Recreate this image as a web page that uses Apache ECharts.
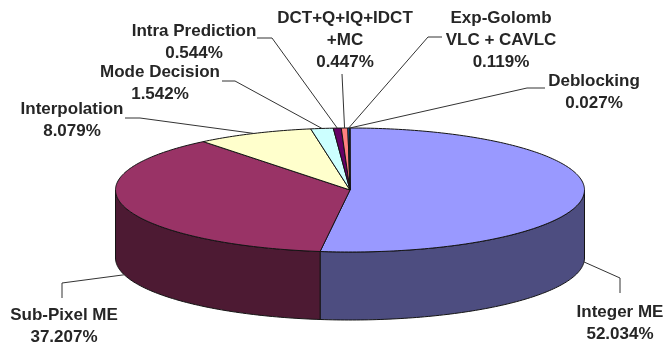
<!DOCTYPE html>
<html>
<head>
<meta charset="utf-8">
<style>html,body{margin:0;padding:0;background:#fff}#chart{width:665px;height:345px}</style>
<script src="https://cdn.jsdelivr.net/npm/echarts@6/dist/echarts.min.js"></script>
</head>
<body>
<div id="chart"></div>
<script>
// Share of encoder run time per coding stage, in percent.
const categories = [
  'Integer ME', 'Sub-Pixel ME', 'Interpolation', 'Mode Decision',
  'Intra Prediction', 'DCT+Q+IQ+IDCT\n+MC', 'Exp-Golomb\nVLC + CAVLC', 'Deblocking'
];
const shares = [52.034, 37.207, 8.079, 1.542, 0.544, 0.447, 0.119, 0.027];

// Face and wall colours of each slice.
const faceColors = ['#9999FF', '#993366', '#FFFFCC', '#CCFFFF', '#660066', '#FF8080', '#0066CC', '#CCCCFF'];
const wallColors = ['#4D4D80', '#4D1A33', '#80805F', '#668080', '#330033', '#804040', '#003366', '#666680'];

// Label centre and leader elbow for each slice, in pixels.
const labelCentres = [[620, 301], [64, 304], [72, 98], [160, 61], [194, 20], [345, 7], [501, 7], [594, 70]];
const leaderBends = [
  [[620, 293], [620, 278]],
  [[62, 298], [62, 283]],
  [[125, 118], [140, 118]],
  [[222, 81], [235, 81]],
  [[257, 38], [272, 38]],
  [[342, 74]],
  [[442, 37], [428, 37]],
  [[545, 88], [527, 88]]
];

// Tilted disc geometry.
const cx = 350, cy = 190, rx = 234.5, ry = 62, depth = 68;
const rim = (deg) => {
  const a = deg * Math.PI / 180;
  return [cx + rx * Math.sin(a), cy - ry * Math.cos(a)];
};
const arc = (from, to) => {
  const pts = [];
  const steps = Math.max(1, Math.ceil(Math.abs(to - from)));
  for (let i = 0; i <= steps; i++) pts.push(rim(from + (to - from) * i / steps));
  return pts;
};

// Angles run clockwise from twelve o'clock.
let running = 0;
const total = shares.reduce((s, v) => s + v, 0);
const sliceRows = shares.map((v, i) => {
  const start = running;
  running += v;
  return [start / total * 360, running / total * 360, i];
});

const renderSlice = (params, api) => {
  const start = api.value(0), end = api.value(1), i = api.value(2);
  const children = [];
  const line = { stroke: '#141414', lineWidth: 1, lineJoin: 'round' };

  // Only the part of the wall between 90 and 270 degrees faces the viewer.
  const wallFrom = Math.max(start, 90), wallTo = Math.min(end, 270);
  if (wallTo > wallFrom) {
    const upper = arc(wallFrom, wallTo);
    const lower = upper.map(p => [p[0], p[1] + depth]).reverse();
    children.push({
      type: 'polygon', silent: true,
      shape: { points: upper.concat(lower) },
      style: Object.assign({ fill: wallColors[i] }, line)
    });
  }

  children.push({
    type: 'polygon', silent: true,
    shape: { points: [[cx, cy]].concat(arc(start, end)) },
    style: Object.assign({ fill: faceColors[i] }, line)
  });

  // Leader runs from the middle of the slice's outer edge to its label.
  const mid = (start + end) / 2;
  const anchor = rim(mid);
  if (mid > 90 && mid < 270) anchor[1] += depth;
  children.push({
    type: 'polyline', silent: true,
    shape: { points: leaderBends[i].concat([anchor]) },
    style: { fill: 'none', stroke: '#333', lineWidth: 1 }
  });

  const c = labelCentres[i];
  children.push({
    type: 'text', silent: true,
    style: {
      text: categories[i] + '\n' + shares[i].toFixed(3) + '%',
      x: c[0], y: c[1],
      align: 'center', verticalAlign: 'top',
      font: 'bold 17px "Liberation Sans", Arial, sans-serif',
      lineHeight: 22,
      fill: '#262626'
    }
  });
  return { type: 'group', children };
};

const chart = echarts.init(document.getElementById('chart'), null, { renderer: 'canvas' });
chart.setOption({
  animation: false,
  backgroundColor: '#fff',
  series: [{
    type: 'custom',
    coordinateSystem: 'none',
    silent: true,
    encode: { value: [0, 1, 2] },
    data: sliceRows,
    renderItem: renderSlice
  }]
});
</script>
</body>
</html>
